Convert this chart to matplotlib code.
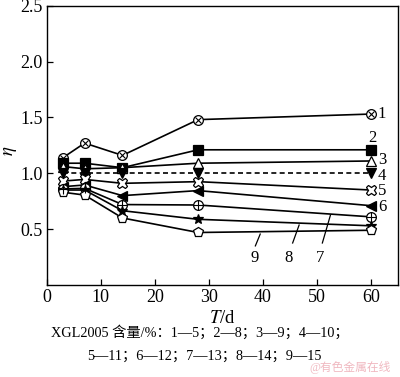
import numpy as np
import matplotlib
matplotlib.use("Agg")
import matplotlib.pyplot as plt

plt.rcParams['font.family'] = ['Liberation Serif', 'Noto Sans CJK SC']
plt.rcParams['mathtext.fontset'] = 'stix'

days = [3, 7, 14, 28, 60]
s1 = [1.14, 1.27, 1.16, 1.48, 1.53]
s2 = [1.09, 1.09, 1.05, 1.21, 1.21]
s3 = [1.06, 1.04, 1.05, 1.09, 1.11]
s4 = [1.00, 1.00, 1.00, 1.00, 1.00]
s5 = [0.93, 0.945, 0.91, 0.925, 0.85]
s6 = [0.88, 0.895, 0.80, 0.845, 0.71]
s7 = [0.86, 0.865, 0.72, 0.716, 0.61]
s8 = [0.85, 0.85, 0.665, 0.588, 0.53]
s9 = [0.83, 0.805, 0.60, 0.47, 0.49]
series = [s1, s2, s3, s4, s5, s6, s7, s8, s9]
labels = ['1', '2', '3', '4', '5', '6', '7', '8', '9']
caption1 = "XGL2005 含量/%：1—5；2—8；3—9；4—10；"
caption2 = "5—11；6—12；7—13；8—14；9—15"

fig = plt.figure(figsize=(4.0, 3.77), dpi=100)
ax = fig.add_axes([0.117, 0.244, 0.878, 0.741])

lw = 1.2
ms = 6.5
k = 'black'

def draw(y, marker, face, ls='-', extra=None, ems=None, size=ms):
    ax.plot(days, y, color=k, lw=lw, ls=ls, marker=marker, ms=size,
            mfc=face, mec=k, mew=0.9, zorder=3)
    if extra:
        ax.plot(days, y, ls='none', marker=extra, ms=ems or size * 0.8,
                mec=k, mew=0.8, zorder=4)

draw(s1, 'o', 'white', extra='x', ems=4.8, size=7)
draw(s2, 's', k)
draw(s3, '^', 'white', size=7)
draw(s4, 'v', k, ls=(0, (3, 2)), size=7)
draw(s5, 'X', 'white', size=7.5)
draw(s6, '<', k, size=7)
draw(s7, 'o', 'white', extra='+', ems=7, size=7)
draw(s8, '*', k, size=7.5)
draw(s9, 'p', 'white', size=7.5)

# right-side labels
fs_lab = 12
for name, (lx, ly) in zip(labels[:6], [(61.2, 1.53), (60.2, 1.32), (61.3, 1.115),
                                       (61.3, 0.975), (61.3, 0.845), (61.3, 0.695)]):
    ax.text(lx, ly, name, fontsize=fs_lab, ha='left' if name != '2' else 'center',
            va='center')

# leader labels 7, 8, 9
for name, tx, (x0, y0, x1, y1) in [('9', 38.4, (38.6, 0.35, 39.5, 0.456)),
                                   ('8', 44.7, (45.5, 0.376, 46.7, 0.537)),
                                   ('7', 50.6, (51.0, 0.376, 52.5, 0.626))]:
    ax.plot([x0, x1], [y0, y1], color=k, lw=0.9)
    ax.text(tx, 0.24, name, fontsize=fs_lab, ha='center', va='center')

ax.set_xlim(0, 65)
ax.set_ylim(0, 2.5)
ax.set_xticks([0, 10, 20, 30, 40, 50, 60])
ax.set_yticks([0.5, 1.0, 1.5, 2.0, 2.5])
ax.set_yticklabels(['0.5', '1.0', '1.5', '2.0', '2.5'])
ax.tick_params(direction='in', labelsize=13, length=4, width=0.9, pad=3)
for sp in ax.spines.values():
    sp.set_linewidth(1.0)

ax.set_xlabel(r'$T$/d', fontsize=13.5, labelpad=3)
ax.set_ylabel(r'$\eta$', fontsize=13.5)
ax.yaxis.set_label_coords(-0.08, 0.48)

fig.text(0.50, 0.117, caption1, fontsize=10.3, ha='center', va='center')
fig.text(0.51, 0.056, caption2, fontsize=10.3, ha='center', va='center')
fig.text(0.875, 0.025, "@有色金属在线", fontsize=8.5, ha='center', va='center',
         color='#f0b8c0')

fig.savefig('out.png', dpi=100)
